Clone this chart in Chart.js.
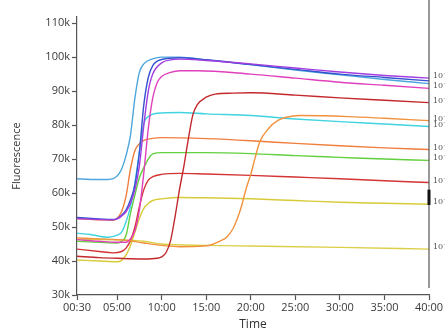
<!DOCTYPE html>
<html>
<head>
<meta charset="utf-8">
<script src="https://cdn.jsdelivr.net/npm/chart.js@4/dist/chart.umd.min.js"></script>
<style>
  html, body { margin: 0; padding: 0; background: #fff; }
  #wrap { width: 445px; height: 335px; position: relative; }
</style>
</head>
<body>
<div id="wrap"><canvas id="chart"></canvas></div>
<script>
// time in minutes, fluorescence in thousands
const xTicks = [0.5, 5, 10, 15, 20, 25, 30, 35, 40]
const yTicks = [30, 40, 50, 60, 70, 80, 90, 100, 110]

const violet = [[0.5,52.5],[3,52.2],[4.5,52.1],[5,52.4],[5.5,53.2],[6,54.5],[6.5,57],[7,61],[7.5,68],[8,80],[8.5,90],[9,95],[10,98.3],[11,99.2],[12,99.4],[15,99],[20,98],[25,96.8],[30,95.6],[35,94.6],[40,93.8]]
const darkBlue = [[0.5,52.8],[3,52.4],[4.5,52.2],[5,52.5],[5.5,53.5],[6,55],[6.5,58],[7,62.5],[7.5,72],[8,86],[8.5,94],[9,97.5],[10,99.3],[12,99.8],[15,99.2],[20,97.8],[25,96.4],[30,95],[35,94],[40,93]]
const lightBlue = [[0.5,64.2],[2,64],[4,64],[5,65],[5.5,67],[6,71],[6.5,77],[7,88],[7.5,95.5],[8,98],[9,99.5],[10,100],[12,100],[15,99.2],[20,97.8],[25,96.2],[30,94.8],[35,93.4],[40,92.2]]
const magenta = [[0.5,46.3],[3,45.8],[5,45.5],[6,45.5],[6.5,46.5],[7,49],[7.5,55],[8,66],[8.5,79],[9,88],[9.5,92.5],[10,94.3],[11,95.5],[12,96],[14,96],[20,95],[25,93.8],[30,92.6],[35,91.7],[40,90.8]]
const darkRed = [[0.5,41.4],[3,41],[5,40.8],[8,40.6],[9.5,40.8],[10,41.2],[10.5,42.5],[11,46],[11.5,53],[12,61],[12.5,68],[13,76],[13.5,83],[14,86],[15,88.2],[16,89.1],[18,89.4],[20,89.5],[25,88.8],[30,88],[35,87.3],[40,86.6]]
const orangeLate = [[0.5,46.8],[3,46.5],[5,46.3],[6,46.1],[8,45.3],[10,44.6],[12,44.2],[14,44.3],[15.5,44.7],[16.5,45.8],[17.3,47],[18,49.5],[18.5,52.5],[19,56.5],[19.5,61.5],[20,65.5],[20.5,70.5],[21,75],[22,79],[23,81.3],[24,82.3],[25.5,82.8],[31,82.5],[35,82],[40,81.3]]
const cyan = [[0.5,48.2],[2,47.8],[4,47],[5,47.6],[5.5,48.5],[6,51.5],[6.5,56],[7,63],[7.5,72],[8,80.5],[8.5,82.5],[9.5,83.5],[12,83.7],[15,83.3],[20,82.8],[25,81.8],[30,81],[35,80.3],[40,79.6]]
const orangeEarly = [[0.5,52.5],[3,52.1],[4.5,52],[5,52.6],[5.5,54.5],[6,59],[6.5,67],[7,72.5],[7.5,74.5],[8,75.5],[9,76.1],[10,76.3],[15,76],[20,75.4],[25,74.6],[30,73.9],[35,73.3],[40,72.8]]
const green = [[0.5,45.8],[3,45.5],[5,45.3],[5.5,45.8],[6,47.5],[6.5,54],[7,59.5],[7.5,64.5],[8,67.5],[8.5,70],[9,71.5],[10,71.9],[15,71.9],[20,71.6],[25,71],[30,70.5],[35,70],[40,69.6]]
const redMid = [[0.5,43.5],[3,42.8],[4.5,42.4],[5.5,42.8],[6,43.8],[6.5,46],[7,50],[7.5,56],[8,61],[8.5,63.8],[9,64.8],[10,65.5],[12,65.8],[15,65.6],[20,65.2],[25,64.7],[30,64.2],[35,63.6],[40,63.1]]
const yellowUpper = [[0.5,40.3],[3,40],[5,39.8],[5.5,40.2],[6,41.8],[6.5,44.5],[7,48.5],[7.5,52.5],[8,55.5],[8.5,57],[9,57.8],[10,58.3],[12,58.7],[15,58.6],[20,58.3],[25,57.8],[30,57.3],[35,57],[40,56.7]]
const yellowLower = [[0.5,46.5],[5,46.2],[8,45.8],[10,45],[15,44.6],[20,44.4],[30,44],[40,43.5]]

const cursorRange = [56.5, 61]

function series(points, color, tag) {
    return {
        data: points.map(p => ({ x: p[0], y: p[1] })),
        borderColor: color,
        borderWidth: 1.4,
        pointRadius: 0,
        cubicInterpolationMode: 'monotone',
        tag: tag
    }
}

function mmss(v) {
    const m = Math.floor(v)
    const s = Math.round((v - m) * 60)
    return String(m).padStart(2, '0') + ':' + String(s).padStart(2, '0')
}

/** right frame line, cursor and dilution tags */
const rightSide = {
    id: 'rightSide',
    afterDatasetsDraw(chart) {
        const { ctx, chartArea } = chart
        const ys = chart.scales.y
        const x = chartArea.right
        ctx.save()
        ctx.strokeStyle = '#555'
        ctx.lineWidth = 1.2
        ctx.beginPath()
        ctx.moveTo(x, 0)
        ctx.lineTo(x, chartArea.bottom - 7)
        ctx.stroke()
        ctx.lineWidth = 3
        ctx.strokeStyle = '#111'
        ctx.beginPath()
        ctx.moveTo(x, ys.getPixelForValue(cursorRange[1]))
        ctx.lineTo(x, ys.getPixelForValue(cursorRange[0]))
        ctx.stroke()

        ctx.font = '8px "DejaVu Serif"'
        ctx.fillStyle = '#555'
        ctx.textBaseline = 'middle'
        chart.data.datasets.forEach((ds, i) => {
            if (!ds.tag) return
            const pts = chart.getDatasetMeta(i).data
            const last = pts[pts.length - 1]
            ctx.fillText(ds.tag, x + 4, last.y - 2)
        })
        ctx.restore()
    }
}

const axisGrid = { display: true, drawOnChartArea: false, drawTicks: true, tickLength: 5, tickColor: '#555', tickWidth: 1.2 }

new Chart(document.getElementById('chart'), {
    type: 'line',
    data: {
        datasets: [
            series(violet, '#a33de0', '10⁻²'),
            series(darkBlue, '#3552d0'),
            series(lightBlue, '#4ea6dc'),
            series(magenta, '#e040bc', '10⁻⁴'),
            series(darkRed, '#c3282d', '10⁻⁴'),
            series(orangeLate, '#f0923e', '10⁻⁵'),
            series(cyan, '#3fd4e0', '10⁻³'),
            series(orangeEarly, '#f07e3c', '10⁻⁵'),
            series(green, '#62d03e', '10⁻⁴'),
            series(redMid, '#d33434', '10⁻⁶'),
            series(yellowUpper, '#d8cb38', '10⁻⁷'),
            series(yellowLower, '#dccf48', '10⁻⁸')
        ]
    },
    options: {
        responsive: true,
        maintainAspectRatio: false,
        animation: false,
        layout: { padding: { top: 17, right: 16, left: 0, bottom: 0 } },
        plugins: { legend: { display: false }, tooltip: { enabled: false } },
        scales: {
            x: {
                type: 'linear',
                min: 0.5,
                max: 40,
                afterBuildTicks: s => { s.ticks = xTicks.map(v => ({ value: v })) },
                afterFit: s => { s.height = 40 },
                grid: axisGrid,
                border: { color: '#555', width: 1.2 },
                ticks: {
                    callback: v => mmss(v),
                    color: '#3a3a3a',
                    font: { family: 'Open Sans', size: 11 },
                    padding: 1,
                    maxRotation: 0
                },
                title: {
                    display: true,
                    text: 'Time',
                    color: '#333',
                    font: { family: 'Open Sans', size: 12 },
                    padding: { top: 0, bottom: 3 }
                }
            },
            y: {
                min: 30,
                max: 111.8,
                afterBuildTicks: s => { s.ticks = yTicks.map(v => ({ value: v })) },
                afterFit: s => { s.width = 77 },
                grid: axisGrid,
                border: { color: '#555', width: 1.2 },
                ticks: {
                    callback: v => v + 'k',
                    color: '#3a3a3a',
                    font: { family: 'Open Sans', size: 11 },
                    padding: 2
                },
                title: {
                    display: true,
                    text: 'Fluorescence',
                    color: '#333',
                    font: { family: 'Open Sans', size: 11 },
                    padding: { top: 10, bottom: 0 }
                }
            }
        }
    },
    plugins: [rightSide]
})
</script>
</body>
</html>
